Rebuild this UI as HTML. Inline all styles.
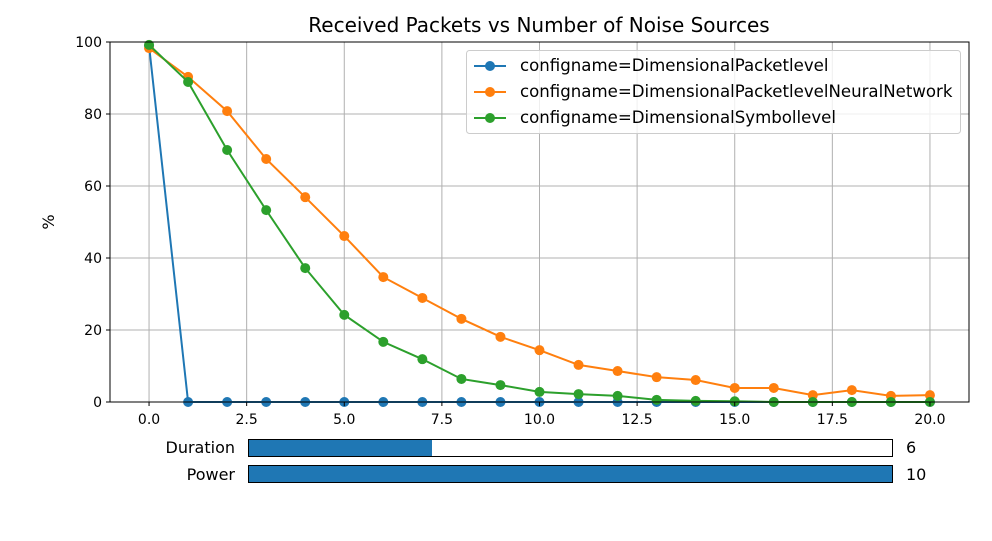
<!DOCTYPE html>
<html><head><meta charset="utf-8"><style>
body{margin:0;background:#fff;font-family:"Liberation Sans","DejaVu Sans",sans-serif;}
svg text{font-family:"DejaVu Sans","Liberation Sans",sans-serif;}
</style></head><body>
<svg id="chart" width="992" height="536" xmlns="http://www.w3.org/2000/svg">
<rect width="992" height="536" fill="#fff"/>
<text x="539" y="32" font-size="20" text-anchor="middle">Received Packets vs Number of Noise Sources</text>
<g id="grid"></g>
<g id="marks"></g>
<rect x="110" y="42" width="859" height="360" fill="none" stroke="#000" stroke-width="1"/>
<g id="ticks"></g>
<text transform="translate(54,222) rotate(-90)" font-size="16" text-anchor="middle">%</text>
<g>
<rect x="466.5" y="50.5" width="494" height="83" rx="3" fill="#fff" fill-opacity="0.8" stroke="#ccc"/>
<g id="legend-entries"></g>
</g>
<g>
<text x="235" y="453" font-size="16" text-anchor="end">Duration</text>
<rect x="248.5" y="439.5" width="644" height="17" fill="#fff" stroke="#000"/>
<rect id="dur-fill" x="249" y="440" width="183" height="16" fill="#1f77b4"/>
<text id="dur-val" x="906" y="453" font-size="16">6</text>
</g>
<g>
<text x="235" y="480" font-size="16" text-anchor="end">Power</text>
<rect x="248.5" y="465.5" width="644" height="17" fill="#1f77b4" stroke="#000"/>
<text x="906" y="480" font-size="16">10</text>
</g>
</svg>
<script>
const categories=[0,1,2,3,4,5,6,7,8,9,10,11,12,13,14,15,16,17,18,19,20];
const seriesNames=["configname=DimensionalPacketlevel","configname=DimensionalPacketlevelNeuralNetwork","configname=DimensionalSymbollevel"];
const packetlevel=[99,0,0,0,0,0,0,0,0,0,0,0,0,0,0,0,0,0,0,0,0];
const neuralNetwork=[98.3,90.3,80.8,67.5,56.9,46.1,34.7,28.9,23.1,18.1,14.4,10.3,8.6,6.9,6.1,3.9,3.9,1.9,3.3,1.7,1.9];
const symbollevel=[99.2,88.9,70,53.3,37.2,24.2,16.7,11.9,6.4,4.7,2.8,2.2,1.7,0.6,0.3,0.2,0,0,0,0,0];
const xTicks=[0,2.5,5,7.5,10,12.5,15,17.5,20];
const xTickLabels=["0.0","2.5","5.0","7.5","10.0","12.5","15.0","17.5","20.0"];
const yTicks=[0,20,40,60,80,100];
const ns="http://www.w3.org/2000/svg";
const X=v=>110+(v+1)*859/22;
const Y=v=>402-v*3.6;
function mk(t,a,p){const e=document.createElementNS(ns,t);for(const k in a)e.setAttribute(k,a[k]);p.appendChild(e);return e;}
const grid=document.getElementById('grid'),ticks=document.getElementById('ticks'),marks=document.getElementById('marks');
xTicks.forEach((v,i)=>{
 const g=mk('line',{x1:X(v),x2:X(v),y1:42,y2:402,stroke:'#b0b0b0','stroke-width':1},grid);
 
 
 mk('line',{x1:X(v),x2:X(v),y1:402,y2:406,stroke:'#000'},ticks);
 const t=mk('text',{x:X(v),y:424,'font-size':14,'text-anchor':'middle'},ticks);t.textContent=xTickLabels[i];
 
 
});
yTicks.forEach(v=>{
 const g=mk('line',{x1:110,x2:969,y1:Y(v),y2:Y(v),stroke:'#b0b0b0','stroke-width':1},grid);
 
 
 mk('line',{x1:106,x2:110,y1:Y(v),y2:Y(v),stroke:'#000'},ticks);
 const t=mk('text',{x:102,y:Y(v)+5,'font-size':14,'text-anchor':'end'},ticks);t.textContent=v;
 
 
});
const colors=['#1f77b4','#ff7f0e','#2ca02c'];
const data=[packetlevel,neuralNetwork,symbollevel];
[0,1,2].forEach(s=>{
 const g=mk('g',{},marks);
 
 
 mk('polyline',{points:data[s].map((v,i)=>X(categories[i])+','+Y(v)).join(' '),fill:'none',stroke:colors[s],'stroke-width':2},g);
 data[s].forEach((v,i)=>{
  const c=mk('circle',{cx:X(categories[i]),cy:Y(v),r:5,fill:colors[s]},g);
  
  
 });
});
const le=document.getElementById('legend-entries');
seriesNames.forEach((n,i)=>{
 const y=66+i*26;
 const g=mk('g',{},le);
 
 
 mk('line',{x1:474,x2:506,y1:y,y2:y,stroke:colors[i],'stroke-width':2},g);
 mk('circle',{cx:490,cy:y,r:5,fill:colors[i]},g);
 const t=mk('text',{x:520,y:y+5,'font-size':16.6},g);t.textContent=n;
});
</script>
</body></html>
